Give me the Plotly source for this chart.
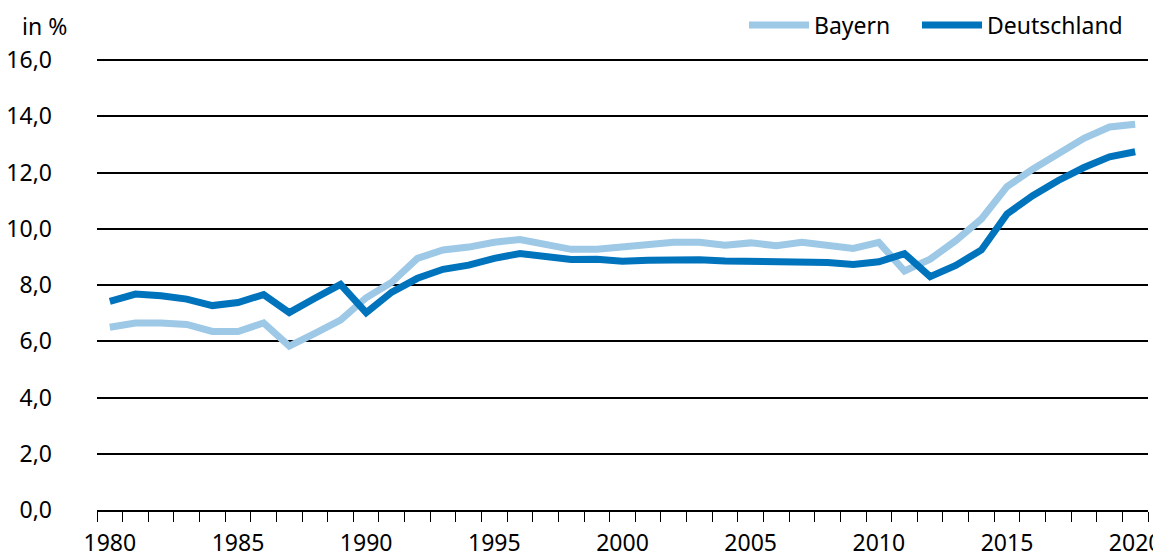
import plotly.graph_objects as go

years = list(range(1980, 2021))
bayern = [6.5, 6.65, 6.65, 6.6, 6.35, 6.35, 6.65, 5.83, 6.28, 6.75, 7.55, 8.1,
          8.95, 9.25, 9.35, 9.52, 9.62, 9.45, 9.27, 9.27, 9.35, 9.45, 9.52, 9.52,
          9.42, 9.5, 9.4, 9.52, 9.42, 9.3, 9.52, 8.5, 8.92, 9.58, 10.35, 11.5,
          12.12, 12.65, 13.22, 13.62, 13.72]
deutschland = [7.42, 7.68, 7.62, 7.5, 7.27, 7.38, 7.66, 7.02, 7.53, 8.02, 7.02, 7.75,
               8.24, 8.56, 8.71, 8.95, 9.12, 9.03, 8.91, 8.92, 8.85, 8.88, 8.9, 8.9,
               8.86, 8.86, 8.84, 8.86, 8.8, 8.73, 8.83, 9.12, 8.3, 8.7, 9.25, 10.53,
               11.18, 11.72, 12.18, 12.56, 12.74]
xtick_vals = list(range(1980, 2021, 5))
ytick_vals = [0, 2, 4, 6, 8, 10, 12, 14, 16]

FONT = "Noto Sans, sans-serif"
FS = 23
W, H = 1153, 547  # page adds an 8px body margin

fig = go.Figure()
fig.add_trace(go.Scatter(x=years, y=bayern, name="Bayern", mode="lines",
                         line=dict(color="#9dc8e6", width=7), legend="legend"))
fig.add_trace(go.Scatter(x=years, y=deutschland, name="Deutschland", mode="lines",
                         line=dict(color="#0073bd", width=7), legend="legend2"))

leg_common = dict(orientation="h", xref="container", yref="container",
                  xanchor="right", y=1 - 17 / H, yanchor="middle",
                  font=dict(size=FS), itemwidth=60,
                  bgcolor="rgba(0,0,0,0)", borderwidth=0)

fig.update_layout(
    width=W, height=H,
    margin=dict(l=89, r=13, t=51, b=45),
    paper_bgcolor="white", plot_bgcolor="white",
    font=dict(family=FONT, size=FS, color="black"),
    separators=",.",
    showlegend=True,
    legend=dict(x=(896 - 8) / W, **leg_common),
    legend2=dict(x=(1128 - 8) / W, **leg_common),
    annotations=[dict(text="in %", xref="paper", yref="paper", x=-(97 - 20) / 1051,
                      y=1 + (510 - 27 - 450) / 450, xanchor="left", yanchor="middle",
                      showarrow=False, font=dict(size=FS))],
)
fig.update_xaxes(
    range=[1979.5, 2020.5], tickvals=xtick_vals, ticks="outside", ticklen=10,
    tickcolor="rgba(0,0,0,0)", showgrid=False, showline=True, linecolor="black",
    linewidth=2, zeroline=False, automargin=False, ticklabeloverflow="allow",
    ticklabelstandoff=1,
    minor=dict(ticks="outside", dtick=1, tick0=1979.5, ticklen=10, tickcolor="black",
               tickwidth=1, showgrid=False),
    tickfont=dict(size=FS),
)
fig.update_yaxes(
    range=[0, 16.04], tickvals=ytick_vals, tickformat=".1f", showgrid=True,
    gridcolor="black", gridwidth=1.5, zeroline=False, showline=False,
    ticks="", ticklabelstandoff=44, tickfont=dict(size=FS), automargin=False,
)
fig.write_html("out.html")
